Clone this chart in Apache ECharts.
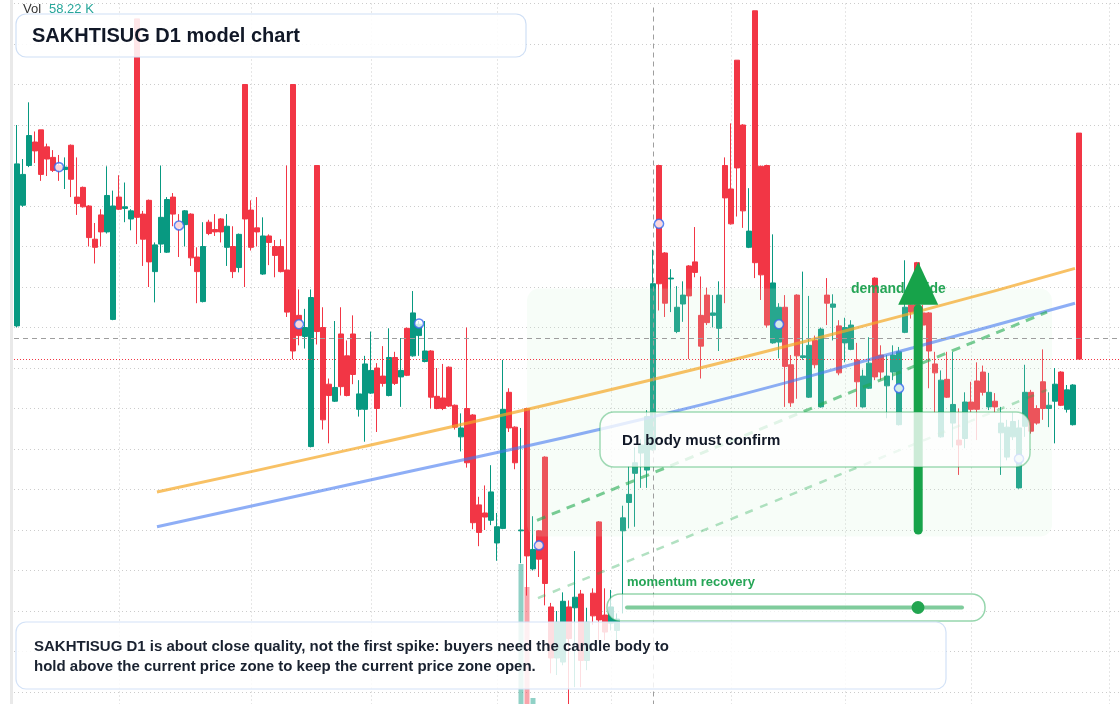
<!DOCTYPE html>
<html>
<head>
<meta charset="utf-8">
<script src="https://cdn.jsdelivr.net/npm/echarts@6/dist/echarts.min.js"></script>
<style>
html, body { margin: 0; padding: 0; background: #fff; }
#main { width: 1120px; height: 704px; }
</style>
</head>
<body>
<div id="main"></div>
<script>
// daily candles: [open, close, low, high]
var ohlc = [
  [32.52,34.52,32.50,35.00],[34.01,34.39,33.99,34.58],[34.50,34.87,34.48,35.28],[34.79,34.68,34.53,34.92],[34.94,34.39,34.31,34.94],
  [34.73,34.58,34.37,34.77],[34.60,34.44,34.42,34.69],[34.50,34.45,34.31,34.63],[34.45,34.48,34.21,34.60],[34.75,34.33,34.11,34.76],
  [34.11,34.03,33.89,34.60],[34.23,33.99,33.98,34.24],[34.00,33.61,33.50,34.01],[33.59,33.49,33.29,33.79],[33.89,33.68,33.50,33.96],
  [33.68,34.13,33.66,34.49],[32.60,34.00,32.59,34.19],[34.11,33.96,33.95,34.38],[33.97,33.99,33.80,34.29],[33.84,33.94,33.70,33.96],
  [36.31,33.86,33.53,36.31],[33.90,33.59,33.26,33.94],[34.07,33.31,33.00,34.08],[33.19,33.52,32.81,33.55],[33.53,33.86,33.42,34.50],
  [33.43,34.08,33.42,34.11],[34.11,33.90,33.75,34.16],[33.80,33.73,33.37,33.90],[33.77,33.94,33.50,33.95],[33.90,33.36,33.26,33.91],
  [33.37,33.19,32.80,33.49],[32.82,33.50,32.81,33.80],[33.80,33.66,33.64,33.83],[33.71,33.68,33.63,33.90],[33.84,33.68,33.55,33.85],
  [33.49,33.75,33.26,33.90],[33.50,33.19,33.11,33.75],[33.24,33.65,33.18,33.66],[35.50,33.84,33.00,35.50],[33.95,33.49,33.45,34.07],
  [33.73,33.68,33.50,34.11],[33.16,33.63,33.15,33.86],[33.63,33.55,33.27,33.65],[33.50,33.39,33.12,33.58],[33.50,33.19,33.18,33.59],
  [33.21,32.69,32.63,34.50],[35.50,32.21,32.11,35.50],[32.65,32.40,32.28,32.97],[32.39,32.50,32.24,32.73],[31.03,32.87,31.02,32.97],
  [34.50,32.45,32.29,34.50],[32.50,31.36,31.24,32.75],[31.80,31.66,31.07,31.87],[31.59,31.76,31.58,32.58],[32.42,31.77,31.66,32.75],
  [32.15,31.66,31.65,32.34],[32.42,31.92,31.80,32.65],[31.49,31.68,31.40,31.85],[31.49,32.05,31.09,32.15],[31.69,31.97,31.68,32.45],
  [32.00,31.50,31.21,32.06],[31.90,31.81,31.77,32.27],[31.66,32.13,31.65,32.49],[32.13,31.81,31.79,32.20],[31.89,31.97,31.52,32.37],
  [32.49,31.91,31.90,32.50],[32.15,32.68,32.14,32.95],[32.40,32.54,32.15,32.58],[32.08,32.21,32.07,32.58],[32.21,31.64,31.50,32.22],
  [31.65,31.50,31.49,32.00],[31.63,31.50,31.48,32.05],[32.01,31.53,31.52,32.02],[31.54,31.27,31.24,31.55],[31.15,31.26,30.97,31.44],
  [31.50,30.83,30.77,32.50],[31.42,30.09,30.01,31.43],[30.31,29.97,29.80,30.41],[30.21,30.16,30.00,30.55],[30.12,30.47,30.06,30.80],
  [29.84,30.04,29.62,30.21],[30.02,31.49,30.01,32.10],[31.70,31.26,31.21,31.75],[31.27,30.83,30.75,31.28],[29.99,30.00,29.59,31.26],
  [31.50,29.68,29.19,31.51],[29.52,29.76,29.50,30.17],[29.99,29.64,29.42,30.00],[30.90,29.34,29.07,30.91],[29.05,28.42,28.23,29.10],
  [28.42,28.86,28.21,29.00],[28.37,29.12,28.33,29.23],[29.05,28.66,27.71,29.13],[29.04,29.17,28.06,29.74],[29.21,28.39,28.06,29.26],
  [28.39,28.86,28.27,29.04],[29.22,28.94,28.83,29.28],[30.10,28.89,28.64,30.11],[28.95,28.74,28.64,29.28],[28.85,29.05,28.76,29.26],
  [28.76,28.90,28.60,28.97],[29.99,30.15,28.97,30.30],[30.34,30.44,30.02,30.79],[30.70,30.83,30.04,31.02],[30.95,31.05,30.52,31.12],
  [30.74,31.40,30.52,31.48],[30.99,33.04,30.98,33.46],[34.50,33.04,32.71,34.51],[33.42,32.80,32.63,33.43],[33.10,33.11,32.69,33.22],
  [32.45,32.75,32.43,33.01],[32.79,32.90,32.57,33.07],[33.26,32.89,32.11,33.27],[33.31,33.18,33.12,33.74],[32.65,32.27,31.87,33.13],
  [32.90,32.56,32.53,32.99],[32.65,32.68,32.50,32.90],[32.49,32.90,32.21,33.07],[34.50,34.10,32.80,34.60],[34.21,33.78,33.77,35.02],
  [35.80,34.47,33.87,35.80],[35.00,33.94,33.73,35.01],[33.49,33.69,33.48,34.22],[36.41,33.30,33.11,36.41],[34.49,33.15,32.84,34.50],
  [34.50,32.53,32.50,34.51],[32.31,33.05,32.30,33.65],[32.32,32.75,32.12,32.80],[32.75,32.02,31.52,32.90],[32.04,31.57,31.52,32.16],
  [32.90,32.15,31.62,32.91],[32.13,32.15,32.10,33.19],[31.64,32.28,31.63,32.89],[32.34,32.04,32.00,32.40],[31.52,32.48,31.51,32.50],
  [32.90,32.80,32.53,33.11],[32.75,32.79,32.34,32.91],[32.52,31.94,31.91,32.59],[32.31,32.50,32.07,32.62],[32.23,32.53,32.22,32.59],
  [32.10,31.83,31.52,32.31],[31.52,31.90,31.51,31.98],[31.75,32.06,31.74,32.38],[33.11,31.89,31.85,33.12],[32.16,31.95,31.85,32.28],
  [31.78,31.90,31.38,32.16],[31.95,32.16,31.85,32.28],[31.30,32.20,31.29,32.26],[32.44,32.75,32.43,33.33],[32.78,32.69,32.61,32.84],
  [33.30,32.59,32.47,33.31],[32.68,32.53,32.47,32.78],[32.68,32.21,31.75,32.69],[32.05,31.94,31.45,32.20],[31.15,31.85,31.14,31.97],
  [31.86,31.64,31.63,32.20],[31.32,31.55,31.02,32.20],[31.11,31.05,30.68,31.50],[31.13,31.58,31.01,31.70],[31.58,31.49,31.45,31.83],
  [31.84,31.49,31.11,32.07],[31.95,31.70,31.66,32.03],[31.52,31.70,31.48,31.94],[31.59,31.52,31.45,31.69],[31.20,31.32,30.68,31.52],
  [30.90,31.27,30.86,31.36],[31.15,31.34,31.11,31.45],[30.52,31.26,30.51,31.36],[31.28,31.70,31.15,32.04],[31.70,31.22,31.19,31.73],
  [31.50,31.32,31.30,31.54],[31.83,31.50,31.36,32.23],[31.50,31.54,31.27,31.70],[31.59,31.80,31.07,32.00],[31.95,31.54,31.53,31.96],
  [31.49,31.73,31.45,31.79],[31.30,31.79,31.29,31.80],[34.90,32.11,32.11,34.90]
];

// volume in thousands
var volK = [
  41,36,44,28,33,25,22,30,19,35,27,24,38,21,26,34,47,23,18,20,
  52,29,37,31,33,40,22,26,24,35,28,39,20,17,23,27,30,34,51,36,
  21,33,19,25,29,42,55,31,24,49,50,38,27,30,35,28,32,22,37,26,
  33,21,34,27,23,31,40,26,22,36,24,20,32,29,25,44,48,33,27,35,
  30,52,34,38,1460,1230,120,41,49,37,28,33,45,31,36,29,27,46,30,25,
  22,34,31,28,26,39,58.22,54,40,25,30,27,36,24,38,29,21,33,45,39,
  52,47,28,57,44,49,35,30,38,29,41,23,36,27,40,24,20,37,26,31,
  29,33,30,46,25,27,28,39,35,22,42,24,33,28,37,26,31,23,34,21,
  30,26,24,20,27,32,25,35,31,29,22,33,19,30,28,26,34,53
];

var slotCount = 185;               // candle slots on the time axis (some empty at the right)
var monthStartIdx = [17, 39, 59, 80, 99, 119, 138, 159, 182];
var markerIdx = [7, 27, 47, 67, 87, 107, 127, 147, 167];
var markerVal = [34.48, 33.76, 32.54, 32.55, 29.81, 33.78, 32.54, 31.75, 30.88];

var orangeGuide = [[23.33, 30.47], [57.17, 31.02], [107.17, 31.88], [149.33, 32.68], [176.33, 33.23]];
var blueGuide = [[23.33, 30.04], [57.17, 30.59], [107.17, 31.42], [149.33, 32.25], [176.33, 32.80]];
var channelUpper = [[86.67, 30.12], [171.67, 32.69]];
var channelLower = [[86.83, 29.16], [171.67, 31.73]];

var demandZone = { from: 85, to: 172.5, top: 32.98, bottom: 29.92 };
var demandArrow = { idx: 150.2, base: 30.0, headBase: 32.78, tip: 33.31 };
var demandLabel = { idx: 139, val: 32.97 };
var crossIdx = 106, crossVal = 32.37;

var UP = '#089981', DOWN = '#f23645';
var FONT = '"Liberation Sans", Arial, sans-serif';
var GRID_LINE = { color: '#cccccc', type: [1, 3], width: 1 };

var slots = [];
for (var i = 0; i < slotCount; i++) slots.push(String(i));

var lastClose = ohlc[ohlc.length - 1][1];

var volData = volK.map(function (v, i) {
  var up = ohlc[i][1] >= ohlc[i][0];
  return { value: v, itemStyle: { color: up ? 'rgba(8,153,129,0.45)' : 'rgba(242,54,69,0.45)' } };
});

var chart = echarts.init(document.getElementById('main'));

var option = {
  animation: false,
  grid: [
    { left: 14, top: 3.5, width: 6 * slotCount, height: 729, outerBoundsMode: 'none' },
    { left: 14, top: 110, width: 6 * slotCount, height: 600, outerBoundsMode: 'none' }
  ],
  xAxis: [
    { type: 'category', gridIndex: 0, data: slots, boundaryGap: true, show: false },
    { type: 'value', gridIndex: 0, min: -0.5, max: slotCount - 0.5, show: false, splitLine: { show: false } },
    { type: 'category', gridIndex: 1, data: slots, boundaryGap: true, show: false }
  ],
  yAxis: [
    {
      type: 'value', gridIndex: 0, min: 27.5, max: 36.5, interval: 0.5,
      axisLine: { show: false }, axisTick: { show: false }, axisLabel: { show: false },
      splitLine: { show: true, lineStyle: GRID_LINE }
    },
    { type: 'value', gridIndex: 1, min: 0, max: 6000, show: false, splitLine: { show: false } }
  ],
  series: [
    {
      name: 'Vol', type: 'bar', xAxisIndex: 2, yAxisIndex: 1, barWidth: 5, z: 1,
      data: volData, silent: true
    },
    {
      name: 'months', type: 'line', xAxisIndex: 1, yAxisIndex: 0, data: [], silent: true,
      markLine: {
        z: 1, silent: true, symbol: ['none', 'none'], label: { show: false },
        lineStyle: GRID_LINE,
        data: monthStartIdx.map(function (v) { return { xAxis: v }; })
      }
    },
    {
      name: 'SAKHTISUG', type: 'candlestick', xAxisIndex: 0, yAxisIndex: 0, z: 2,
      barWidth: 5,
      itemStyle: { color: UP, color0: DOWN, borderColor: UP, borderColor0: DOWN, borderWidth: 1 },
      data: ohlc
    },
    {
      name: 'guide A', type: 'line', xAxisIndex: 1, yAxisIndex: 0, smooth: true, showSymbol: false, z: 4,
      lineStyle: { color: 'rgba(245,166,35,0.7)', width: 3 }, data: orangeGuide, silent: true
    },
    {
      name: 'guide B', type: 'line', xAxisIndex: 1, yAxisIndex: 0, smooth: true, showSymbol: false, z: 4,
      lineStyle: { color: 'rgba(66,120,240,0.6)', width: 3 }, data: blueGuide, silent: true
    },
    {
      name: 'channel up', type: 'line', xAxisIndex: 1, yAxisIndex: 0, showSymbol: false, z: 4,
      lineStyle: { color: 'rgba(34,170,80,0.6)', width: 3, type: [9, 7] }, data: channelUpper, silent: true
    },
    {
      name: 'channel low', type: 'line', xAxisIndex: 1, yAxisIndex: 0, showSymbol: false, z: 4,
      lineStyle: { color: 'rgba(34,170,80,0.35)', width: 2.5, type: [8, 8] }, data: channelLower, silent: true
    },
    {
      name: 'markers', type: 'scatter', xAxisIndex: 1, yAxisIndex: 0, z: 5, symbolSize: 9,
      itemStyle: { color: '#ffffff', borderColor: '#3566ee', borderWidth: 1.6 },
      data: markerIdx.map(function (x, i) { return [x, markerVal[i]]; }), silent: true
    },
    {
      name: 'cross', type: 'line', xAxisIndex: 1, yAxisIndex: 0, data: [], silent: true,
      markLine: {
        z: 6, silent: true, symbol: ['none', 'none'], label: { show: false },
        data: [
          { xAxis: crossIdx, lineStyle: { color: '#9e9e9e', type: [5, 4], width: 1 } },
          { yAxis: crossVal, lineStyle: { color: '#9e9e9e', type: [5, 4], width: 1 } },
          { yAxis: lastClose, lineStyle: { color: DOWN, type: [1, 2], width: 1 } }
        ]
      }
    }
  ]
};
chart.setOption(option);

function px(x, y) {
  return chart.convertToPixel({ xAxisIndex: 1, yAxisIndex: 0 }, [x, y]);
}

var zA = px(demandZone.from, demandZone.top);
var zB = px(demandZone.to, demandZone.bottom);
var aBase = px(demandArrow.idx, demandArrow.base);
var aHead = px(demandArrow.idx, demandArrow.headBase);
var aTip = px(demandArrow.idx, demandArrow.tip);
var lbl = px(demandLabel.idx, demandLabel.val);
var ARROW = '#17a34a';

chart.setOption({
  graphic: [
    { type: 'rect', silent: true, z: 0, shape: { x: 10, y: 0, width: 3, height: 704 }, style: { fill: '#e9e9e9' } },
    {
      type: 'rect', silent: true, z: 3,
      shape: { x: zA[0], y: zA[1], width: zB[0] - zA[0], height: zB[1] - zA[1], r: 12 },
      style: { fill: 'rgba(205,242,212,0.16)' }
    },
    {
      type: 'text', silent: true, z: 12, x: lbl[0], y: lbl[1],
      style: { text: 'demand guide', font: 'bold 14px ' + FONT, fill: '#25a556', verticalAlign: 'middle' }
    },
    {
      type: 'line', silent: true, z: 13,
      shape: { x1: aBase[0], y1: aBase[1], x2: aHead[0], y2: aHead[1] + 4 },
      style: { stroke: ARROW, lineWidth: 9, lineCap: 'round' }
    },
    {
      type: 'polygon', silent: true, z: 13,
      shape: { points: [[aHead[0] - 20, aHead[1]], [aTip[0], aTip[1]], [aHead[0] + 20, aHead[1]]] },
      style: { fill: ARROW }
    },
    // callout: body confirmation
    {
      type: 'rect', silent: true, z: 20,
      shape: { x: 600, y: 412, width: 430, height: 55, r: 14 },
      style: { fill: 'rgba(255,255,255,0.78)', stroke: 'rgba(22,163,74,0.4)', lineWidth: 1.5 }
    },
    {
      type: 'text', silent: true, z: 21, x: 622, y: 441,
      style: { text: 'D1 body must confirm', font: 'bold 15px ' + FONT, fill: '#111827', verticalAlign: 'middle' }
    },
    // momentum recovery slider
    {
      type: 'text', silent: true, z: 21, x: 627, y: 582,
      style: { text: 'momentum recovery', font: 'bold 13px ' + FONT, fill: '#25a556', verticalAlign: 'middle' }
    },
    {
      type: 'rect', silent: true, z: 20,
      shape: { x: 607, y: 594, width: 378, height: 27, r: 13 },
      style: { fill: 'rgba(255,255,255,0.72)', stroke: 'rgba(22,163,74,0.45)', lineWidth: 1.5 }
    },
    {
      type: 'line', silent: true, z: 21,
      shape: { x1: 627, y1: 607.5, x2: 962, y2: 607.5 },
      style: { stroke: 'rgba(22,163,74,0.55)', lineWidth: 4, lineCap: 'round' }
    },
    {
      type: 'circle', silent: true, z: 22, shape: { cx: 918, cy: 607.5, r: 6.5 },
      style: { fill: '#22a550' }
    },
    // title
    {
      type: 'rect', silent: true, z: 20,
      shape: { x: 16, y: 14, width: 510, height: 43, r: 10 },
      style: { fill: 'rgba(255,255,255,0.88)', stroke: '#cfdff5', lineWidth: 1.2 }
    },
    {
      type: 'text', silent: true, z: 21, x: 32, y: 36,
      style: { text: 'SAKHTISUG D1 model chart', font: 'bold 20px ' + FONT, fill: '#111827', verticalAlign: 'middle' }
    },
    // note
    {
      type: 'rect', silent: true, z: 20,
      shape: { x: 16, y: 622, width: 930, height: 67, r: 10 },
      style: { fill: 'rgba(255,255,255,0.84)', stroke: '#d3e2f7', lineWidth: 1.2 }
    },
    {
      type: 'text', silent: true, z: 21, x: 34, y: 647,
      style: {
        text: 'SAKHTISUG D1 is about close quality, not the first spike: buyers need the candle body to',
        font: 'bold 15px ' + FONT, fill: '#1a2230', verticalAlign: 'middle'
      }
    },
    {
      type: 'text', silent: true, z: 21, x: 34, y: 667,
      style: {
        text: 'hold above the current price zone to keep the current price zone open.',
        font: 'bold 15px ' + FONT, fill: '#1a2230', verticalAlign: 'middle'
      }
    },
    // volume readout
    {
      type: 'text', silent: true, z: 21, x: 23, y: 9,
      style: { text: 'Vol', font: '13px ' + FONT, fill: '#333333', verticalAlign: 'middle' }
    },
    {
      type: 'text', silent: true, z: 21, x: 49, y: 9,
      style: { text: volK[crossIdx].toFixed(2) + ' K', font: '13px ' + FONT, fill: '#26a69a', verticalAlign: 'middle' }
    }
  ]
});
</script>
</body>
</html>
